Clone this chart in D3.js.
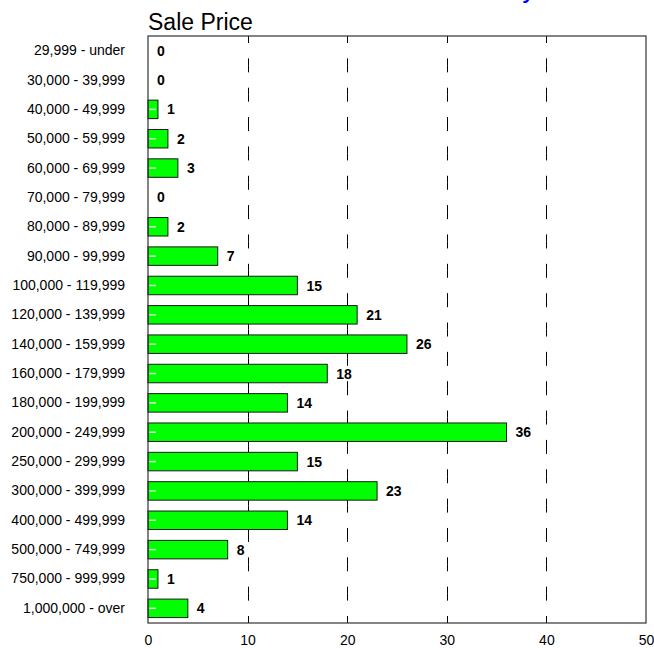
<!DOCTYPE html>
<html>
<head>
<meta charset="utf-8">
<script src="https://cdn.jsdelivr.net/npm/d3@7/dist/d3.min.js"></script>
<style>
  html, body { margin: 0; padding: 0; background: #fff; }
  svg { display: block; }
  text { font-family: Arial, "Liberation Sans", sans-serif; }
</style>
</head>
<body>
<svg id="chart" width="654" height="648"></svg>
<script>
const categories = [
  "29,999 - under", "30,000 - 39,999", "40,000 - 49,999", "50,000 - 59,999",
  "60,000 - 69,999", "70,000 - 79,999", "80,000 - 89,999", "90,000 - 99,999",
  "100,000 - 119,999", "120,000 - 139,999", "140,000 - 159,999", "160,000 - 179,999",
  "180,000 - 199,999", "200,000 - 249,999", "250,000 - 299,999", "300,000 - 399,999",
  "400,000 - 499,999", "500,000 - 749,999", "750,000 - 999,999", "1,000,000 - over"
];
const counts = [0, 0, 1, 2, 3, 0, 2, 7, 15, 21, 26, 18, 14, 36, 15, 23, 14, 8, 1, 4];
const xTicks = [0, 10, 20, 30, 40, 50];
const title = "Sale Price";

const svg = d3.select("#chart");
const plotLeft = 148, plotRight = 646, plotTop = 36, plotBottom = 623;

const x = d3.scaleLinear().domain([0, 50]).range([plotLeft, plotRight]);
const y = d3.scaleBand().domain(categories).range([plotTop, plotBottom])
  .paddingInner(0.37).paddingOuter(0.185);
const bandStep = (plotBottom - plotTop) / categories.length;
const rows = categories.map((c, i) => ({ c, v: counts[i] }));

// cut-off blue heading descender at top
svg.append("text")
  .attr("x", 524).attr("y", -1)
  .attr("fill", "#0000ff")
  .attr("font-weight", "bold").attr("font-style", "italic")
  .attr("font-size", 20)
  .text("y");

// title
svg.append("text")
  .attr("x", plotLeft).attr("y", 30)
  .attr("font-size", 23)
  .attr("fill", "#000")
  .text(title);

// grid lines (dashed, dashes centred on band boundaries)
svg.append("g").selectAll("line")
  .data(xTicks.filter(t => t > 0 && t < 50))
  .join("line")
  .attr("x1", d => Math.round(x(d)) + 0.5).attr("x2", d => Math.round(x(d)) + 0.5)
  .attr("y1", plotTop).attr("y2", plotBottom)
  .attr("stroke", "#000").attr("stroke-width", 1)
  .attr("stroke-dasharray", `7,${bandStep - 14},7,0`);

// bars
const bars = svg.append("g");
bars.selectAll("rect")
  .data(rows.filter(d => d.v > 0))
  .join("rect")
  .attr("x", x(0))
  .attr("y", d => y(d.c))
  .attr("width", d => x(d.v) - x(0))
  .attr("height", y.bandwidth())
  .attr("fill", "#00ff00")
  .attr("stroke", "#1a1a1a")
  .attr("stroke-width", 1);

// small highlight dash inside each bar
bars.selectAll("line")
  .data(rows.filter(d => d.v > 0))
  .join("line")
  .attr("x1", x(0) + 1.5)
  .attr("x2", d => Math.min(x(0) + 8, x(d.v) - 1))
  .attr("y1", d => y(d.c) + y.bandwidth() / 2)
  .attr("y2", d => y(d.c) + y.bandwidth() / 2)
  .attr("stroke", "#ccffcc").attr("stroke-width", 1.5);

// value labels
svg.append("g").selectAll("text")
  .data(rows)
  .join("text")
  .attr("x", d => x(d.v) + 9)
  .attr("y", d => y(d.c) + y.bandwidth() / 2)
  .attr("dy", "0.36em")
  .attr("font-size", 14).attr("font-weight", "bold")
  .attr("fill", "#000")
  .text(d => d.v);

// frame
svg.append("rect")
  .attr("x", plotLeft).attr("y", plotTop)
  .attr("width", plotRight - plotLeft).attr("height", plotBottom - plotTop)
  .attr("fill", "none").attr("stroke", "#333").attr("stroke-width", 1.2);

// category axis
const yAxis = svg.append("g")
  .attr("transform", `translate(${plotLeft},0)`)
  .call(d3.axisLeft(y).tickSize(0).tickPadding(23));
yAxis.select(".domain").remove();
yAxis.selectAll("text")
  .attr("font-size", 14).attr("fill", "#000")
  .style("font-family", "Arial, 'Liberation Sans', sans-serif");

// x axis
const xAxis = svg.append("g")
  .attr("transform", `translate(0,${plotBottom})`)
  .call(d3.axisBottom(x).tickValues(xTicks).tickSize(0).tickPadding(12));
xAxis.select(".domain").remove();
xAxis.selectAll("text")
  .attr("font-size", 14).attr("fill", "#000")
  .style("font-family", "Arial, 'Liberation Sans', sans-serif");
</script>
</body>
</html>
